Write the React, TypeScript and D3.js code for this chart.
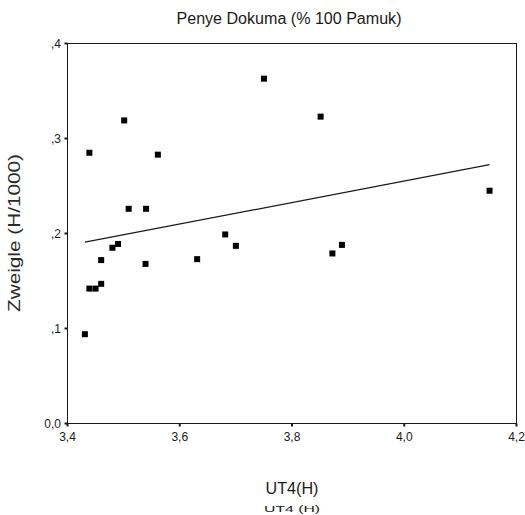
import React from "react";
import * as d3 from "d3";

const title = "Penye Dokuma (% 100 Pamuk)";
const xLabel = "UT4(H)";
const xLabelEcho = "UT4 (H)";
const yLabel = "Zweigle (H/1000)";

const ut4 = [3.431, 3.439, 3.450, 3.460, 3.460, 3.480, 3.490, 3.539, 3.509, 3.540, 3.439,
  3.561, 3.501, 3.631, 3.681, 3.700, 3.750, 3.851, 3.872, 3.889, 4.152];
const zweigle = [0.094, 0.142, 0.142, 0.147, 0.172, 0.185, 0.189, 0.168, 0.226, 0.226, 0.285,
  0.283, 0.319, 0.173, 0.199, 0.187, 0.363, 0.323, 0.179, 0.188, 0.245];

const xTicks = [3.4, 3.6, 3.8, 4.0, 4.2];
const xTickLabels = ["3,4", "3,6", "3,8", "4,0", "4,2"];
const yTicks = [0, 0.1, 0.2, 0.3, 0.4];
const yTickLabels = ["0,0", ",1", ",2", ",3", ",4"];

const FONT = "'Liberation Sans', Arial, sans-serif";
const INK = "#1a1a1a";

export default function App() {
  const left = 67.5, right = 516.5, top = 43.5, bottom = 423.5;
  const x = d3.scaleLinear().domain([3.4, 4.2]).range([left, right]);
  const y = d3.scaleLinear().domain([0, 0.4]).range([bottom, top]);

  const pts = ut4.map((v, i) => [v, zweigle[i]] as [number, number]);
  const mx = d3.mean(ut4)!;
  const my = d3.mean(zweigle)!;
  const sxy = d3.sum(pts, (p) => (p[0] - mx) * (p[1] - my));
  const sxx = d3.sum(ut4, (v) => (v - mx) * (v - mx));
  const slope = sxy / sxx;
  const icpt = my - slope * mx;
  const [xmin, xmax] = d3.extent(ut4) as [number, number];
  const line = d3.line<number>().x((v) => x(v)).y((v) => y(icpt + slope * v));
  const sq = 6;

  return (
    <svg width={525} height={515} style={{ position: "absolute", left: 0, top: 0, background: "#fff" }}>
      <text x={289} y={24} textAnchor="middle" fontFamily={FONT} fontSize={16} fill={INK} textLength={225} lengthAdjust="spacingAndGlyphs">{title}</text>
      <rect x={left} y={top} width={right - left} height={bottom - top} fill="none" stroke={INK} strokeWidth={1} />
      {yTicks.map((t, i) => (
        <g key={"y" + i}>
          <line x1={left - 3} x2={left} y1={y(t)} y2={y(t)} stroke={INK} strokeWidth={2} />
          <text x={61} y={y(t) + 4} textAnchor="end" fontFamily={FONT} fontSize={12} fill={INK}>{yTickLabels[i]}</text>
        </g>
      ))}
      {xTicks.map((t, i) => (
        <g key={"x" + i}>
          <line x1={x(t)} x2={x(t)} y1={bottom} y2={bottom + 3} stroke={INK} strokeWidth={2} />
          <text x={x(t)} y={441} textAnchor="middle" fontFamily={FONT} fontSize={12} fill={INK}>{xTickLabels[i]}</text>
        </g>
      ))}
      <path d={line([xmin, xmax]) || ""} fill="none" stroke={INK} strokeWidth={1.2} />
      {pts.map((p, i) => (
        <rect key={"p" + i} x={x(p[0]) - sq / 2} y={y(p[1]) - sq / 2} width={sq} height={sq} fill="#000" />
      ))}
      <text transform={`translate(20,233) rotate(-90)`} textAnchor="middle" fontFamily={FONT} fontSize={16} fill="#2a2a2a" textLength={158} lengthAdjust="spacingAndGlyphs">{yLabel}</text>
      <text x={292} y={494} textAnchor="middle" fontFamily={FONT} fontSize={17} fill={INK} textLength={53} lengthAdjust="spacingAndGlyphs">{xLabel}</text>
      <g transform="translate(292,512) scale(1,0.5)">
        <text x={0} y={0} textAnchor="middle" fontFamily={FONT} fontSize={17} fill={INK} textLength={56} lengthAdjust="spacingAndGlyphs">{xLabelEcho}</text>
      </g>
    </svg>
  );
}
